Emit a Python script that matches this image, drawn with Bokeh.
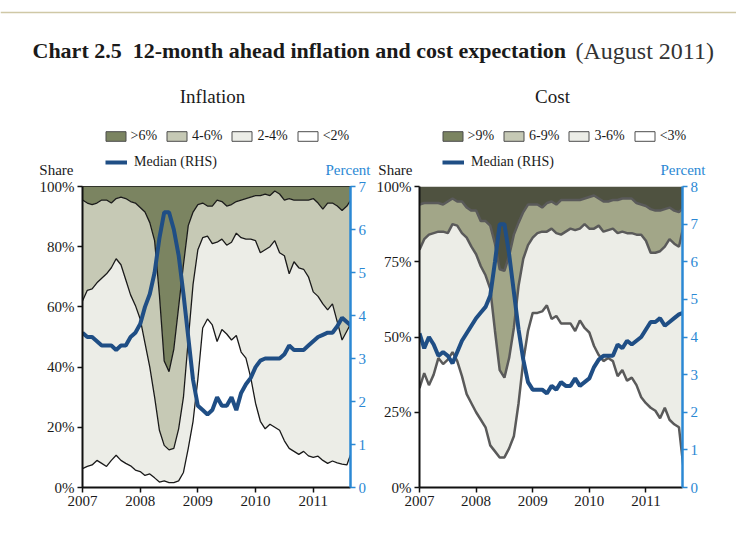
import pandas as pd
from bokeh.plotting import figure
from bokeh.models import (Range1d, LinearAxis, FixedTicker, PrintfTickFormatter,
                          Label, Legend, LegendItem, Span)
from bokeh.layouts import column, row
from bokeh.embed import file_html
from bokeh.resources import INLINE

# ---------------- data ----------------
months = pd.date_range("2007-01-01", "2011-09-01", freq="MS")
t = (months.year + (months.month - 1) / 12.0).tolist()
year_ticks = [2007, 2008, 2009, 2010, 2011]

# Inflation: cumulative share of firms expecting below 2%, 4%, 6% (percent)
infl_below2 = [6.3, 7, 7.5, 9, 8, 7, 9, 10.7, 9, 8, 7.2, 5.8,
               5.3, 4, 4.5, 3.2, 1.8, 2.2, 1.6, 1.6, 2.2, 5, 13, 22,
               36, 53, 56, 54, 48.5, 52.5, 51, 49, 50.5, 45, 43, 36.5,
               28, 22, 19.5, 21, 20, 19, 15.5, 13, 12, 11, 12, 10.5,
               10, 10.4, 9, 8, 8.8, 8.2, 7.8, 7.5, 12]
infl_below4 = [62, 65.5, 66, 68, 69.5, 71, 73, 76, 74, 69, 64, 60.5,
               56, 48, 40, 30, 19, 14, 12.5, 13, 19.5, 30, 49, 67.5,
               79, 83, 83.5, 81, 81.5, 82.5, 80.5, 81.5, 84.5, 83, 82.5, 82.5,
               82, 78, 79, 80, 82, 78, 77, 71, 75, 73, 72.5, 70,
               65, 63.5, 61, 59, 61, 55, 49, 52, 55]
infl_below6 = [95.5, 94.5, 94, 94.5, 95.5, 95.5, 94.5, 96, 96.5, 96, 95, 94.5,
               93, 91.5, 88, 82, 64, 42, 38.5, 46, 60, 74, 87, 91.5,
               94, 94.5, 93.5, 93.5, 95.5, 95, 93.5, 94, 95, 95.5, 96, 96.5,
               97, 97, 97.5, 97, 98.5, 97.5, 95.5, 96, 95.5, 95.5, 95.5, 95.5,
               96, 94.5, 92.5, 94.5, 94.5, 93.5, 92, 93.5, 96]
infl_median = [3.6, 3.5, 3.5, 3.4, 3.3, 3.3, 3.3, 3.2, 3.3, 3.3, 3.5, 3.6,
               3.8, 4.2, 4.5, 5.0, 5.8, 6.4, 6.4, 6.0, 5.4, 4.5, 3.5, 2.5,
               1.9, 1.8, 1.7, 1.8, 2.1, 1.9, 1.9, 2.1, 1.8, 2.2, 2.4, 2.55,
               2.8, 2.95, 3.0, 3.0, 3.0, 3.0, 3.1, 3.3, 3.2, 3.2, 3.2, 3.3,
               3.4, 3.5, 3.55, 3.6, 3.6, 3.75, 3.95, 3.85, 3.75]

# Cost: cumulative share of firms expecting below 3%, 6%, 9% (percent)
cost_below3 = [33, 38, 34, 37.5, 43, 41, 42.5, 45, 42, 37, 31, 28,
               25, 22.5, 20, 14, 12, 10, 10, 13, 17, 28, 42, 52,
               58, 58, 58.5, 60.5, 56, 57, 54.5, 54.5, 54.5, 52, 55.5, 53,
               51.5, 47, 44, 42, 43, 42, 37, 39, 35.5, 36.5, 34, 30,
               28, 26.5, 25.5, 23, 26.5, 22.5, 21, 20, 6]
cost_below6 = [79, 82.5, 84, 84.5, 85, 85, 84.5, 87.5, 87, 84.5, 83, 80,
               77.5, 73.5, 70.5, 66, 52, 39, 36.5, 43, 53, 67, 76, 80.5,
               83, 84.5, 85, 85, 86, 84.5, 84, 85, 86, 85.5, 86, 87.5,
               86, 86, 87, 85, 85.5, 86, 84.5, 85, 84.5, 84.5, 84, 84,
               82, 78, 78, 78.5, 80, 82.5, 81, 80, 87]
cost_below9 = [94, 94.5, 94.5, 94.5, 94.5, 94, 95, 96, 95, 95, 93, 92,
               92, 88.5, 88.5, 87, 81, 72.5, 72, 77, 84, 88, 91.5, 94,
               94, 94, 93, 94.5, 95, 94, 95.5, 95.5, 95.5, 95.5, 95.5, 96,
               96.5, 97, 96, 95, 95, 95.5, 95.5, 96, 96, 96, 94.5, 94,
               93.5, 92.5, 92, 92, 92.5, 93, 92, 91.5, 93]
cost_median = [4.1, 3.7, 4.0, 3.8, 3.5, 3.6, 3.5, 3.3, 3.6, 3.9, 4.1, 4.3,
               4.5, 4.65, 4.8, 5.1, 6.0, 7.0, 7.0, 6.2, 5.2, 4.2, 3.4, 2.8,
               2.6, 2.6, 2.6, 2.5, 2.7, 2.6, 2.8, 2.7, 2.7, 2.9, 2.7, 2.8,
               2.9, 3.2, 3.4, 3.5, 3.5, 3.5, 3.8, 3.7, 3.9, 3.8, 3.9, 4.0,
               4.2, 4.4, 4.4, 4.5, 4.3, 4.4, 4.5, 4.6, 4.65]

infl_labels = [">6%", "4-6%", "2-4%", "<2%"]
cost_labels = [">9%", "6-9%", "3-6%", "<3%"]
infl_share_ticks = [0, 20, 40, 60, 80, 100]
cost_share_ticks = [0, 25, 50, 75, 100]
infl_rhs_ticks = [0, 1, 2, 3, 4, 5, 6, 7]
cost_rhs_ticks = [0, 1, 2, 3, 4, 5, 6, 7, 8]

# ---------------- style ----------------
SERIF = "Liberation Serif"
INK = "#1a1a1a"
BLUE_AX = "#2b88d4"
MEDIAN_C = "#1f4e85"
LEGEND_FILLS = ["#7b8461", "#c6c9b5", "#ecede7", "#ffffff"]
INFL_FILLS = ["#7b8461", "#c6c9b5", "#ecede7", "#ffffff"]
COST_FILLS = ["#4f5240", "#a2a688", "#ecede7", "#ffffff"]
X_END = 2011.646
HEADER_H = 178
NAN = float("nan")


def make_panel(below_lo, below_mid, below_hi, median, fills, line_color,
               line_width, share_ticks, rhs_max, rhs_ticks, frame_w, b_left,
               b_right, outline):
    p = figure(frame_width=frame_w, frame_height=301,
               min_border_left=b_left, min_border_right=b_right,
               min_border_top=8, min_border_bottom=30,
               x_range=Range1d(2007, X_END), y_range=Range1d(0, 100),
               toolbar_location=None, output_backend="svg",
               background_fill_color="white", border_fill_color="white",
               outline_line_color=outline, outline_line_width=1)
    p.grid.visible = False
    p.extra_y_ranges = {"rhs": Range1d(0, rhs_max)}

    p.varea(x=t, y1=below_hi, y2=100, fill_color=fills[0])
    p.varea(x=t, y1=below_mid, y2=below_hi, fill_color=fills[1])
    p.varea(x=t, y1=below_lo, y2=below_mid, fill_color=fills[2])
    p.varea(x=t, y1=0, y2=below_lo, fill_color=fills[3])
    for ys in (below_hi, below_mid, below_lo):
        p.line(x=t, y=ys, line_color=line_color, line_width=line_width)
    p.line(x=t, y=median, y_range_name="rhs", line_color=MEDIAN_C, line_width=4)

    ya = p.yaxis[0]
    ya.ticker = FixedTicker(ticks=share_ticks)
    ya.formatter = PrintfTickFormatter(format="%d%%")
    xa = p.xaxis[0]
    xa.ticker = FixedTicker(ticks=year_ticks)
    xa.formatter = PrintfTickFormatter(format="%d")
    for ax in (ya, xa):
        ax.axis_line_width = 2
        ax.axis_line_color = "#111111"
        ax.major_tick_line_color = "#111111"
        ax.major_tick_line_width = 1.5
        ax.major_tick_in = 0
        ax.major_tick_out = 5
        ax.minor_tick_line_color = None
        ax.major_label_text_font = SERIF
        ax.major_label_text_font_size = "15px"
        ax.major_label_text_color = INK
        ax.major_label_standoff = 3
    ra = LinearAxis(y_range_name="rhs", ticker=FixedTicker(ticks=rhs_ticks),
                    axis_line_color=BLUE_AX, axis_line_width=2.5,
                    major_tick_line_color=BLUE_AX, major_tick_line_width=1.5,
                    major_tick_in=0, major_tick_out=5,
                    minor_tick_line_color=None,
                    major_label_text_font=SERIF, major_label_text_font_size="15px",
                    major_label_text_color=BLUE_AX, major_label_standoff=3)
    p.add_layout(ra, "right")
    return p


left = make_panel(infl_below2, infl_below4, infl_below6, infl_median, INFL_FILLS,
                  "#1a1a1a", 1.3, infl_share_ticks, 7, infl_rhs_ticks,
                  268, 82, 23, "#1a1a1a")
right = make_panel(cost_below3, cost_below6, cost_below9, cost_median, COST_FILLS,
                   "#5a5a5a", 2.5, cost_share_ticks, 8, cost_rhs_ticks,
                   263, 46, 54, None)

# ---------------- header: title, subtitles, legends, axis captions ----------------
header = figure(width=736, height=HEADER_H, x_range=Range1d(0, 736),
                y_range=Range1d(HEADER_H, 0), toolbar_location=None,
                output_backend="svg", min_border=0, x_axis_type=None,
                y_axis_type=None, outline_line_color=None)
header.grid.visible = False
header.add_layout(Span(location=12, dimension="width", line_color="#cfc8a6", line_width=1.5))


def txt(x, y, s, size, align="left", color=INK, style="normal"):
    header.add_layout(Label(x=x, y=y, text=s, text_font=SERIF, text_font_size=size,
                            text_align=align, text_baseline="middle",
                            text_color=color, text_font_style=style))


txt(32, 50, "Chart 2.5\u00a0\u00a012-month ahead inflation and cost expectation", "22px", style="bold")
txt(575, 50, "(August 2011)", "24px", color="#333333")
txt(212, 96, "Inflation", "19px", align="center")
txt(552, 96, "Cost", "19px", align="center")
txt(73, 169.5, "Share", "15px", align="right")
txt(412, 169.5, "Share", "15px", align="right")
txt(370, 169.5, "Percent", "15px", align="right", color=BLUE_AX)
txt(705, 169.5, "Percent", "15px", align="right", color=BLUE_AX)

# legend keys (no visible marks of their own; NaN coordinates)
swatches = [header.quad(left=[NAN], right=[NAN], bottom=[NAN], top=[NAN], fill_color=c,
                        line_color="#4d4d4d", line_width=1) for c in LEGEND_FILLS]
median_key = header.line(x=[NAN, NAN], y=[NAN, NAN], line_color=MEDIAN_C, line_width=4)


def add_legends(x0, labels):
    leg1 = Legend(items=[LegendItem(label=l, renderers=[r]) for l, r in zip(labels, swatches)],
                  orientation="horizontal", location=(x0 - 2.5, HEADER_H - 136.7 - 7),
                  glyph_width=25, glyph_height=12, label_standoff=3, spacing=7,
                  padding=0, margin=0, label_height=14,
                  border_line_color=None, background_fill_alpha=0,
                  label_text_font=SERIF, label_text_font_size="14px",
                  label_text_color=INK)
    leg2 = Legend(items=[LegendItem(label="Median (RHS)", renderers=[median_key])],
                  orientation="horizontal", location=(x0, HEADER_H - 163.3 - 7),
                  glyph_width=22, glyph_height=10, label_standoff=7,
                  padding=0, margin=0, label_height=14,
                  border_line_color=None, background_fill_alpha=0,
                  label_text_font=SERIF, label_text_font_size="14px",
                  label_text_color=INK)
    header.add_layout(leg1, "center")
    header.add_layout(leg2, "center")


add_legends(105, infl_labels)
add_legends(442, cost_labels)

layout = column(header, row(left, right))
open("out.html", "w").write(file_html(layout, INLINE))
